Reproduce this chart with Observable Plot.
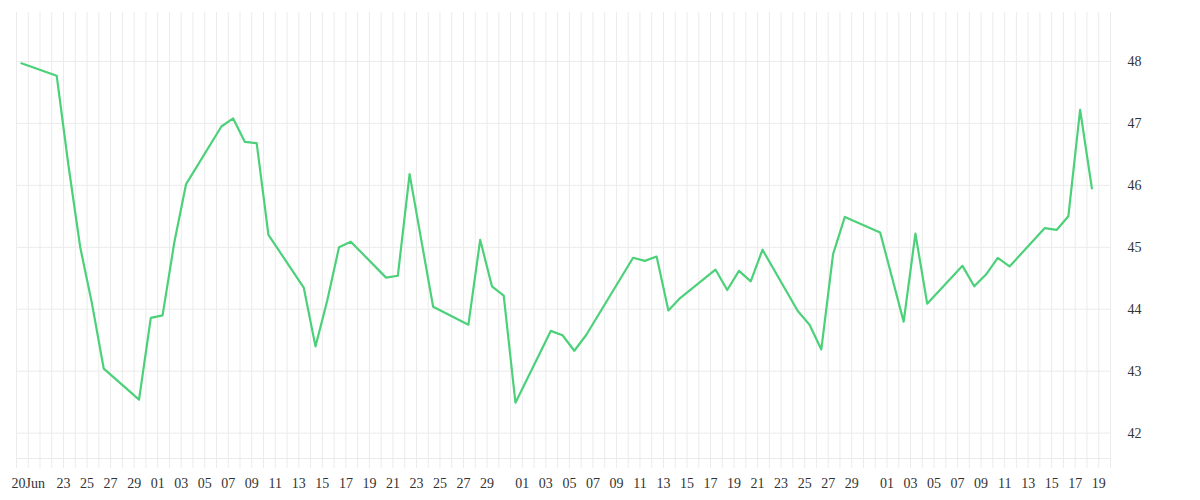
<!DOCTYPE html>
<html>
<head>
<meta charset="utf-8">
<script src="https://cdn.jsdelivr.net/npm/d3@7"></script>
<script src="https://cdn.jsdelivr.net/npm/@observablehq/plot@0.6"></script>
<style>
  html, body { margin: 0; padding: 0; background: #fff; }
  #chart { width: 1200px; height: 500px; }
</style>
</head>
<body>
<div id="chart"></div>
<script>
const dates = [
  "2020-06-19","2020-06-22","2020-06-23","2020-06-24","2020-06-25","2020-06-26",
  "2020-06-29","2020-06-30","2020-07-01","2020-07-02","2020-07-03",
  "2020-07-06","2020-07-07","2020-07-08","2020-07-09","2020-07-10",
  "2020-07-13","2020-07-14","2020-07-15","2020-07-16","2020-07-17",
  "2020-07-20","2020-07-21","2020-07-22","2020-07-24",
  "2020-07-27","2020-07-28","2020-07-29","2020-07-30","2020-07-31",
  "2020-08-03","2020-08-04","2020-08-05","2020-08-06",
  "2020-08-10","2020-08-11","2020-08-12","2020-08-13","2020-08-14",
  "2020-08-17","2020-08-18","2020-08-19","2020-08-20","2020-08-21",
  "2020-08-24","2020-08-25","2020-08-26","2020-08-27","2020-08-28",
  "2020-08-31","2020-09-02","2020-09-03","2020-09-04",
  "2020-09-07","2020-09-08","2020-09-09","2020-09-10","2020-09-11",
  "2020-09-14","2020-09-15","2020-09-16","2020-09-17","2020-09-18"
];
const values = [
  47.97,47.77,46.32,45.00,44.09,43.04,
  42.54,43.86,43.90,45.08,46.02,
  46.95,47.08,46.70,46.68,45.20,
  44.35,43.40,44.14,45.00,45.09,
  44.51,44.54,46.18,44.04,
  43.75,45.12,44.37,44.22,42.49,
  43.65,43.58,43.33,43.58,
  44.83,44.78,44.85,43.98,44.18,
  44.64,44.31,44.62,44.45,44.96,
  43.97,43.75,43.35,44.89,45.49,
  45.24,43.80,45.22,44.09,
  44.70,44.37,44.56,44.83,44.69,
  45.31,45.28,45.50,47.22,45.95
];
const xTickDates = [
  "2020-06-20","2020-06-23","2020-06-25","2020-06-27","2020-06-29",
  "2020-07-01","2020-07-03","2020-07-05","2020-07-07","2020-07-09","2020-07-11","2020-07-13","2020-07-15",
  "2020-07-17","2020-07-19","2020-07-21","2020-07-23","2020-07-25","2020-07-27","2020-07-29",
  "2020-08-01","2020-08-03","2020-08-05","2020-08-07","2020-08-09","2020-08-11","2020-08-13","2020-08-15",
  "2020-08-17","2020-08-19","2020-08-21","2020-08-23","2020-08-25","2020-08-27","2020-08-29",
  "2020-09-01","2020-09-03","2020-09-05","2020-09-07","2020-09-09","2020-09-11","2020-09-13","2020-09-15",
  "2020-09-17","2020-09-19"
];
const xTickLabels = [
  "20Jun","23","25","27","29",
  "01","03","05","07","09","11","13","15",
  "17","19","21","23","25","27","29",
  "01","03","05","07","09","11","13","15",
  "17","19","21","23","25","27","29",
  "01","03","05","07","09","11","13","15",
  "17","19"
];
const yTicks = [42, 43, 44, 45, 46, 47, 48];
const xDomain = ["2020-06-19", "2020-09-20"];
const yDomain = [41.59, 48.79];

const HOUR = 3600 * 1000;
const data = dates.map((d, i) => ({ date: new Date(new Date(d).getTime() + 10 * HOUR), value: values[i] }));
const x0 = new Date(xDomain[0]), x1 = new Date(xDomain[1]);
const days = d3.utcDay.range(x0, new Date(x1.getTime() + 1));
days.push(x1);
const tickDates = xTickDates.map(d => new Date(d));
const labelMap = new Map(tickDates.map((d, i) => [+d, xTickLabels[i]]));
const grid = "#ebebeb";

const chart = Plot.plot({
  width: 1200,
  height: 500,
  marginLeft: 16,
  marginRight: 90,
  marginTop: 12,
  marginBottom: 42,
  style: { fontFamily: "'Liberation Serif', serif", fontSize: "14px", color: "#333", background: "#fff" },
  x: { type: "utc", domain: [x0, x1] },
  y: { domain: yDomain },
  marks: [
    Plot.gridX({ ticks: days, stroke: grid, strokeOpacity: 1 }),
    Plot.gridY({ ticks: yTicks, stroke: grid, strokeOpacity: 1 }),
    Plot.ruleY([yDomain[0]], { stroke: grid, strokeOpacity: 1 }),
    Plot.axisX({ ticks: days, tickSize: 10, stroke: grid, strokeOpacity: 1, tickFormat: () => "", label: null }),
    Plot.axisX({ ticks: tickDates, tickSize: 0, tickPadding: 20, tickFormat: d => labelMap.get(+d), fill: "#333", label: null }),
    Plot.axisY({ anchor: "right", ticks: yTicks, tickSize: 0, tickPadding: 17, textAnchor: "start", fill: "#333", label: null }),
    Plot.line(data, { x: "date", y: "value", stroke: "#4cd17a", strokeWidth: 2.2, curve: "linear" })
  ]
});
document.getElementById("chart").appendChild(chart);
</script>
</body>
</html>
